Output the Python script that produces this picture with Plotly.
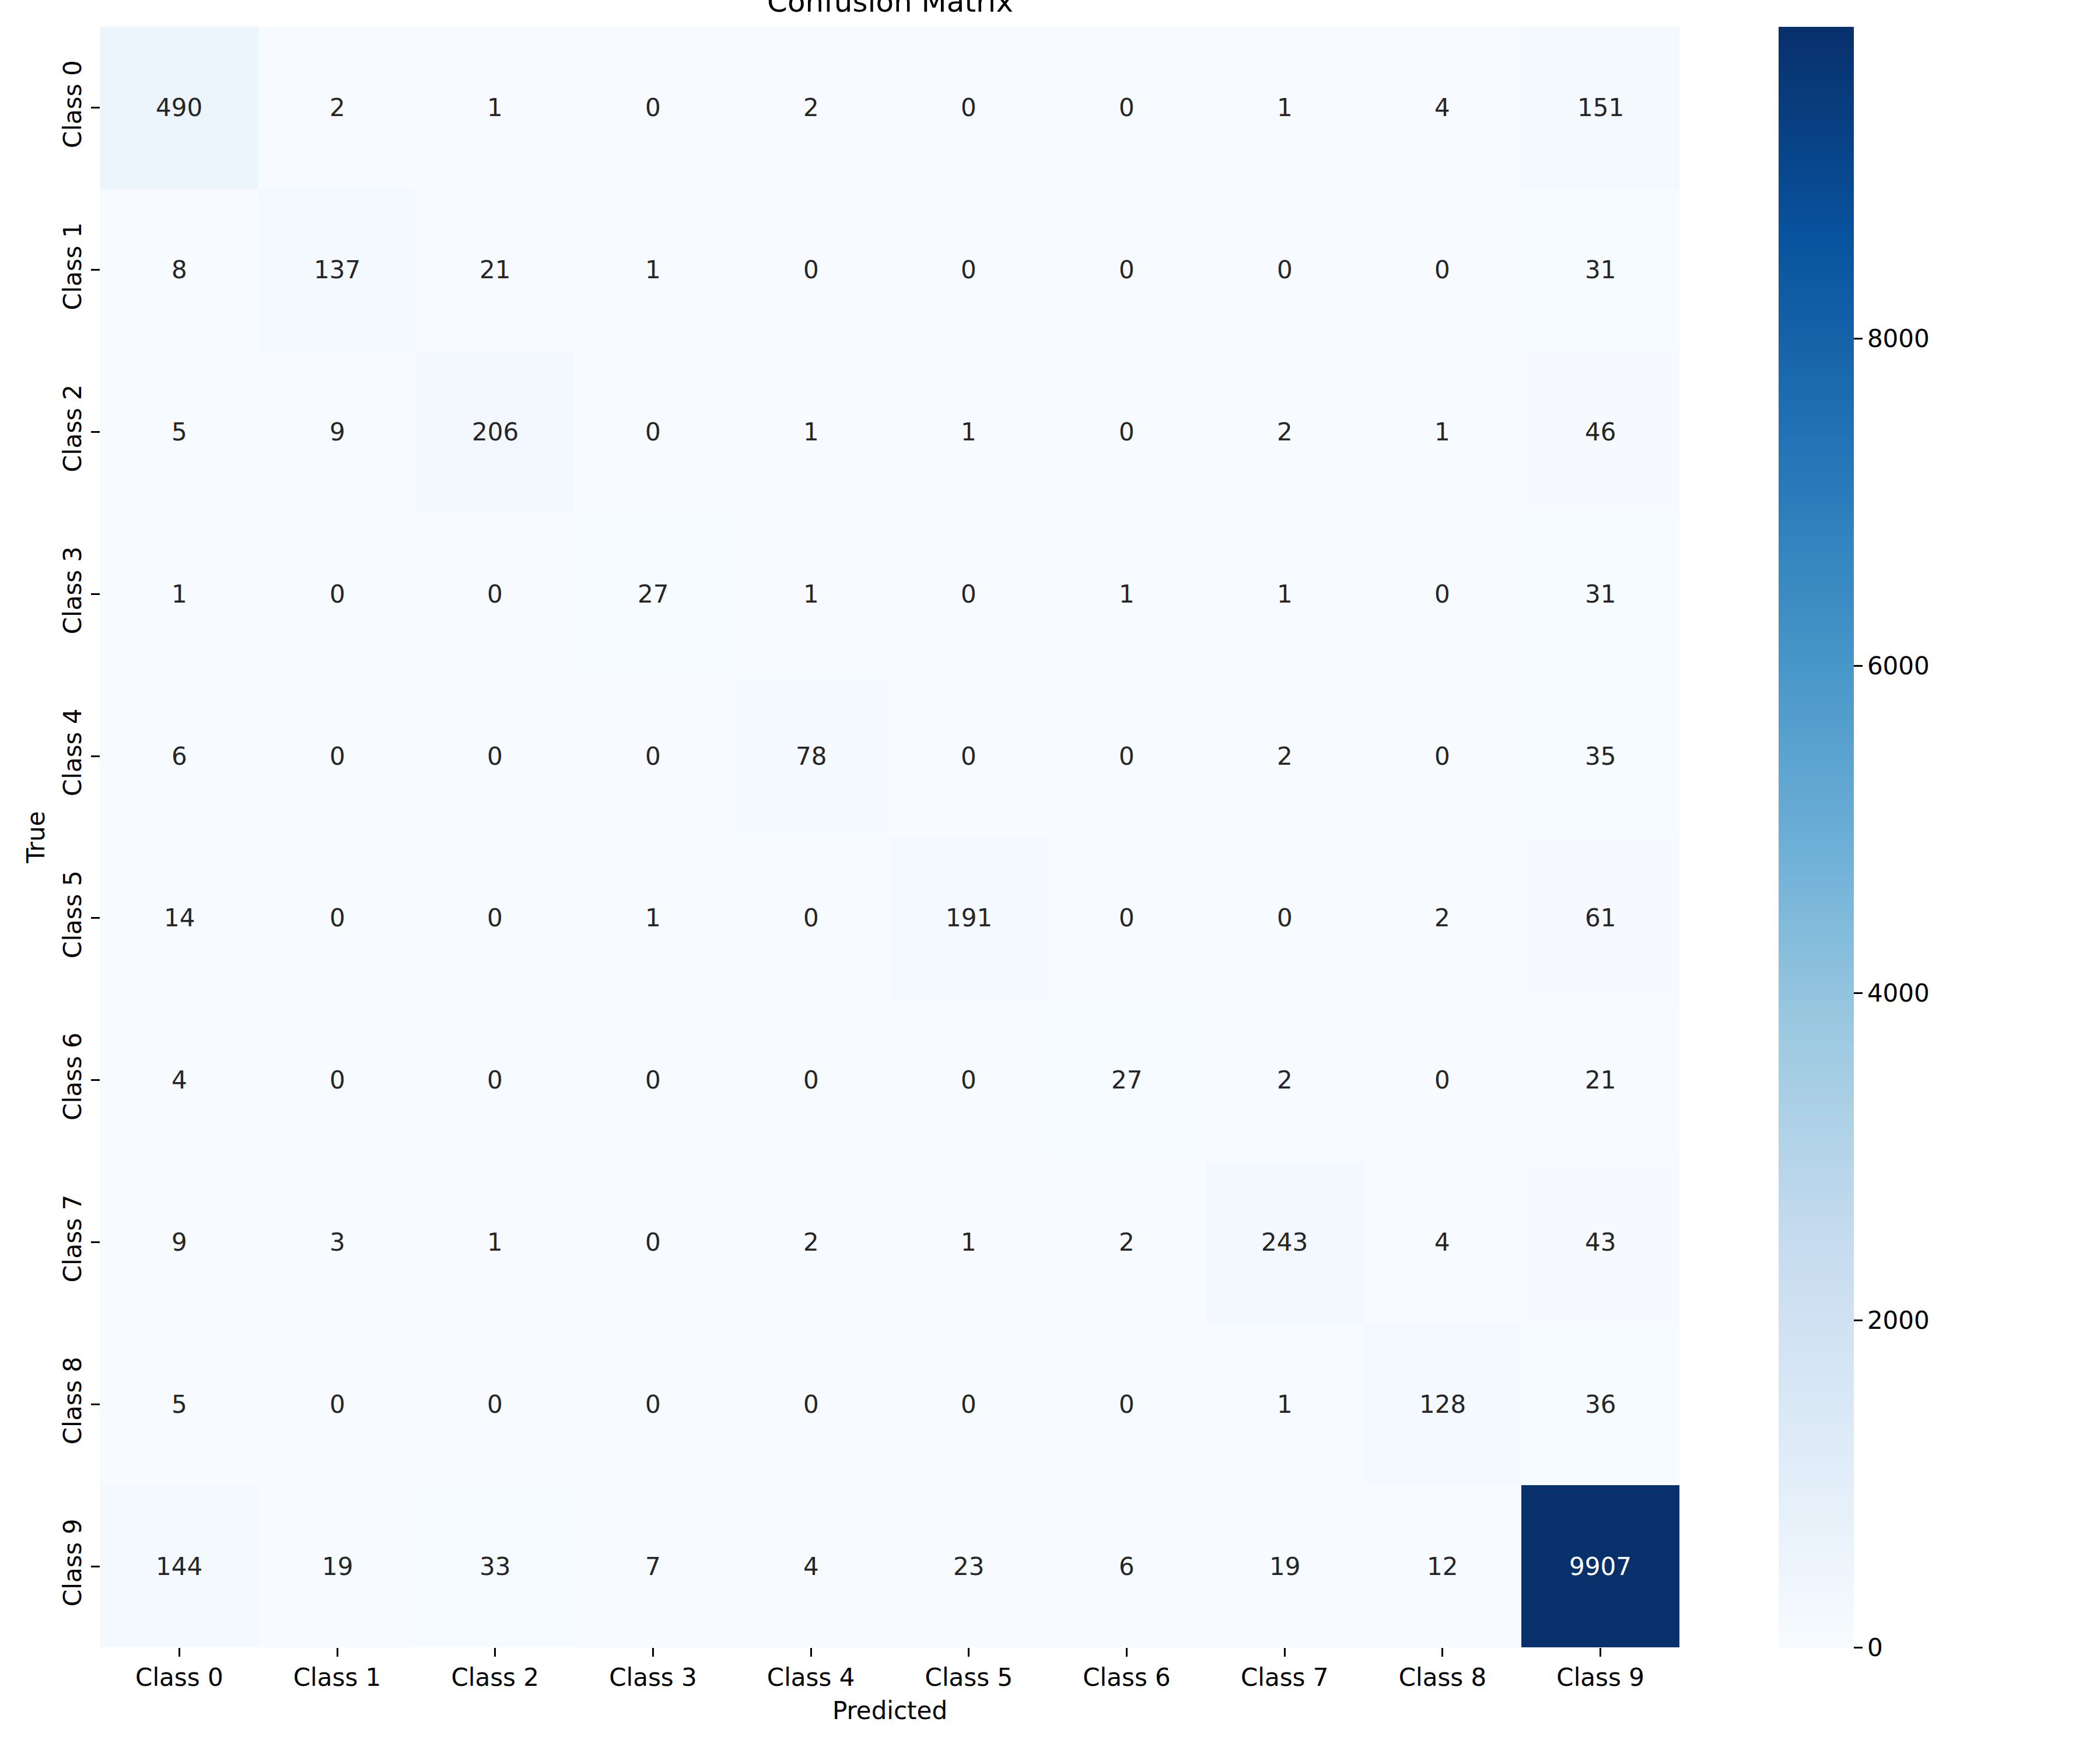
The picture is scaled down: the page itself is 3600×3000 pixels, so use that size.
import plotly.graph_objects as go

classes = [f"Class {i}" for i in range(10)]
predicted_labels = classes
true_labels = classes

row_0 = [490, 2, 1, 0, 2, 0, 0, 1, 4, 151]
row_1 = [8, 137, 21, 1, 0, 0, 0, 0, 0, 31]
row_2 = [5, 9, 206, 0, 1, 1, 0, 2, 1, 46]
row_3 = [1, 0, 0, 27, 1, 0, 1, 1, 0, 31]
row_4 = [6, 0, 0, 0, 78, 0, 0, 2, 0, 35]
row_5 = [14, 0, 0, 1, 0, 191, 0, 0, 2, 61]
row_6 = [4, 0, 0, 0, 0, 0, 27, 2, 0, 21]
row_7 = [9, 3, 1, 0, 2, 1, 2, 243, 4, 43]
row_8 = [5, 0, 0, 0, 0, 0, 0, 1, 128, 36]
row_9 = [144, 19, 33, 7, 4, 23, 6, 19, 12, 9907]
matrix = [row_0, row_1, row_2, row_3, row_4, row_5, row_6, row_7, row_8, row_9]

colorbar_ticks = [0, 2000, 4000, 6000, 8000]

blues = [
    [0.0, "#f7fbff"], [0.125, "#deebf7"], [0.25, "#c6dbef"], [0.375, "#9ecae1"],
    [0.5, "#6baed6"], [0.625, "#4292c6"], [0.75, "#2171b5"], [0.875, "#08519c"],
    [1.0, "#08306b"],
]

FONT = "DejaVu Sans"
W, H = 3600, 3000
L, R, T, B = 172, 2879, 46, 2824

vmax = max(max(r) for r in matrix)

fig = go.Figure(go.Heatmap(
    z=matrix, x=predicted_labels, y=true_labels,
    colorscale=blues, zmin=0, zmax=vmax,
    colorbar=dict(
        thickness=129, len=1, lenmode="fraction", y=0.5, yanchor="middle",
        x=1 + (3049 - R) / (R - L), xanchor="left", xpad=0, ypad=0,
        outlinewidth=0, tickvals=colorbar_ticks, ticks="outside",
        ticklen=15, tickwidth=3, tickcolor="black",
        tickfont=dict(family=FONT, size=42, color="black"),
    ),
    hoverinfo="skip",
))

annotations = []
for i, row in enumerate(matrix):
    for j, v in enumerate(row):
        annotations.append(dict(
            x=predicted_labels[j], y=true_labels[i], text=str(v), showarrow=False,
            font=dict(family=FONT, size=42, color="white" if v > vmax * 0.6 else "#262626"),
        ))

annotations.append(dict(
    text="Confusion Matrix", xref="paper", yref="paper", x=0.5, y=1,
    xanchor="center", yanchor="bottom", yshift=12, showarrow=False,
    font=dict(family=FONT, size=50, color="black"),
))

fig.update_layout(
    width=W, height=H,
    margin=dict(l=L, r=W - R, t=T, b=H - B, pad=0),
    plot_bgcolor="white", paper_bgcolor="white",
    font=dict(family=FONT, size=42, color="black"),
    annotations=annotations,
    xaxis=dict(
        title=dict(text="Predicted", font=dict(family=FONT, size=42), standoff=18),
        ticks="outside", ticklen=15, tickwidth=3, tickcolor="black",
        tickfont=dict(family=FONT, size=42), showgrid=False, zeroline=False,
        showline=False,
    ),
    yaxis=dict(
        title=dict(text="True", font=dict(family=FONT, size=42), standoff=10),
        autorange="reversed", tickangle=-90,
        ticks="outside", ticklen=15, tickwidth=3, tickcolor="black",
        tickfont=dict(family=FONT, size=42), showgrid=False, zeroline=False,
        showline=False,
    ),
)

fig.write_html("out.html")
